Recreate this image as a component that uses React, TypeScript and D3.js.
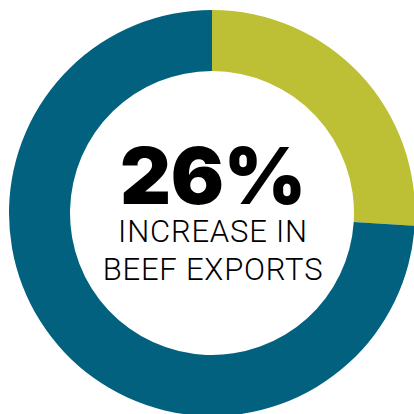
import React from "react";
import * as d3 from "d3";

const categories = ["Increase", "Rest"];
const values = [26, 74];
const colors = ["#BDC035", "#02617F"];
const headline = "26%";
const lines = ["INCREASE IN", "BEEF EXPORTS"];

export default function App() {
  const W = 414, H = 414;
  const cx = 212, cy = 213;
  const outerR = 203, innerR = 142;
  const pie = d3.pie<number>().sort(null).value((d) => d);
  const arcs = pie(values);
  const arc = d3.arc<d3.PieArcDatum<number>>().innerRadius(innerR).outerRadius(outerR);
  return (
    <svg width={W} height={H} style={{ position: "absolute", left: 0, top: 0, background: "#fff" }}>
      <g transform={`translate(${cx},${cy})`}>
        {arcs.map((a, i) => (
          <path key={categories[i]} d={arc(a) || ""} fill={colors[i]} />
        ))}
      </g>
      <text x={213} y={204} textAnchor="middle" fontFamily="Inter" fontWeight={900} fontSize={79} fill="#000" letterSpacing={-0.3}>
        {headline}
      </text>
      <text x={213} y={242} textAnchor="middle" fontFamily="Roboto" fontWeight={300} fontSize={31} fill="#000" letterSpacing={0.8}>
        {lines[0]}
      </text>
      <text x={213} y={280} textAnchor="middle" fontFamily="Roboto" fontWeight={300} fontSize={31} fill="#000" letterSpacing={0.8}>
        {lines[1]}
      </text>
    </svg>
  );
}
